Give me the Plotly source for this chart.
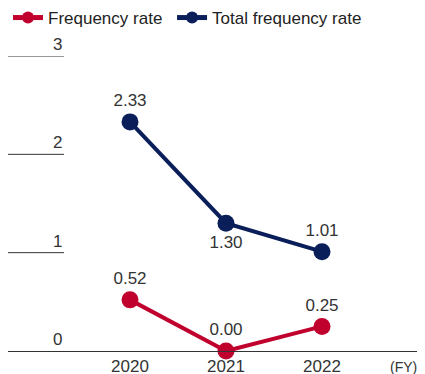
import plotly.graph_objects as go

years = ["2020", "2021", "2022"]
freq_rate = [0.52, 0.00, 0.25]
total_freq_rate = [2.33, 1.30, 1.01]
freq_labels = ["0.52", "0.00", "0.25"]
total_labels = ["2.33", "1.30", "1.01"]
total_label_pos = ["top center", "bottom center", "top center"]
y_ticks = [0, 1, 2, 3]

RED = "#C0002D"
NAVY = "#0A1E5A"
GRAY = "#333333"
FONT = "Liberation Sans, Arial, sans-serif"
FS = 17

W, H = 417, 366  # page body has an 8px margin
xi = list(range(len(years)))

fig = go.Figure()
fig.add_trace(go.Scatter(
    x=xi, y=freq_rate, name="Frequency rate\u00a0", mode="lines+markers+text",
    line=dict(color=RED, width=4), marker=dict(size=17, color=RED),
    text=freq_labels, textposition="top center",
    textfont=dict(size=FS, color=GRAY), cliponaxis=False,
))
fig.add_trace(go.Scatter(
    x=xi, y=total_freq_rate, name="Total frequency rate", mode="lines+markers+text",
    line=dict(color=NAVY, width=4), marker=dict(size=17, color=NAVY),
    text=total_labels, textposition=total_label_pos,
    textfont=dict(size=FS, color=GRAY), cliponaxis=False,
))

# short gridlines + labels on the left
for v in y_ticks:
    if v > 0:
        fig.add_shape(type="line", xref="paper", yref="y",
                      x0=0, x1=56 / W, y0=v, y1=v,
                      line=dict(color=GRAY, width=1))
    fig.add_annotation(xref="paper", yref="y", x=56 / W, y=v,
                       text=str(v), showarrow=False, xanchor="right",
                       yanchor="bottom", yshift=0,
                       font=dict(size=FS, color=GRAY, family=FONT))

fig.add_annotation(xref="paper", yref="paper", x=1, y=0, xanchor="right",
                   yanchor="top", yshift=-6, xshift=-6, text="(FY)", showarrow=False,
                   font=dict(size=14, color=GRAY, family=FONT))

fig.update_layout(
    width=W, height=H,
    margin=dict(l=0, r=0, t=48, b=23, autoexpand=False),
    paper_bgcolor="white", plot_bgcolor="white",
    font=dict(family=FONT, size=FS, color=GRAY),
    showlegend=True,
    legend=dict(orientation="h", x=0, y=1 - 10 / H, xanchor="left", yanchor="middle",
                yref="container", font=dict(size=FS, color="#222222"),
                tracegroupgap=0, itemsizing="constant", itemwidth=30),
    xaxis=dict(range=[-122 / 96, 2 + 103 / 96], tickmode="array", tickvals=xi,
               ticktext=years, showgrid=False, zeroline=False, showline=True,
               linecolor=GRAY, linewidth=1, ticks="", tickfont=dict(size=FS, color=GRAY)),
    yaxis=dict(range=[0, 3], showgrid=False, zeroline=False, showticklabels=False,
               showline=False),
)

fig.write_html("out.html")
